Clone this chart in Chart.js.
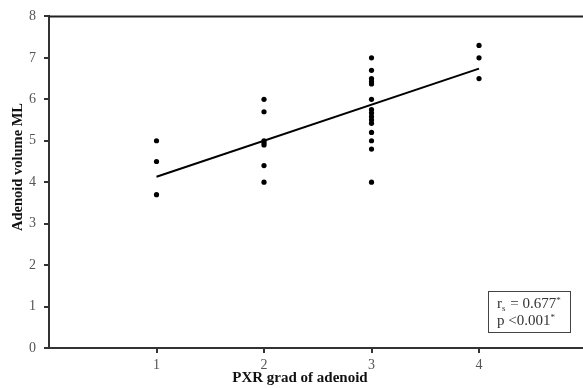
<!DOCTYPE html>
<html>
<head>
<meta charset="utf-8">
<script src="https://cdn.jsdelivr.net/npm/chart.js@4/dist/chart.umd.min.js"></script>
<style>
  html, body { margin: 0; padding: 0; background: #fff; }
  #wrap { width: 583px; height: 388px; position: relative; }
</style>
</head>
<body>
<div id="wrap"><canvas id="chart"></canvas></div>
<script>
// PXR grade groups and adenoid volumes (ML)
const grades = [1, 2, 3, 4];
const grade1 = [5.0, 4.5, 3.7];
const grade2 = [6.0, 5.7, 5.0, 4.95, 4.9, 4.4, 4.0];
const grade3 = [7.0, 6.7, 6.5, 6.43, 6.37, 6.0, 5.75, 5.67, 5.58, 5.5, 5.42, 5.2, 5.0, 4.8, 4.0];
const grade4 = [7.3, 7.0, 6.5];
const trendX = [1, 4];
const trendY = [4.13, 6.74];
const yTicks = [0, 1, 2, 3, 4, 5, 6, 7, 8];

const serif = '"Liberation Serif", "DejaVu Serif", serif';

const points = [];
[grade1, grade2, grade3, grade4].forEach((vals, i) => {
    vals.forEach(v => points.push({ x: grades[i], y: v }));
});

// frame lines running to the edge, axis titles and the stats box
const extras = {
    id: 'extras',
    afterDraw(chart) {
        const { ctx, chartArea } = chart;
        const xAxisY = chart.scales.y.getPixelForValue(0);
        ctx.save();
        ctx.strokeStyle = '#222';
        ctx.lineWidth = 2;
        ctx.beginPath();
        ctx.moveTo(chartArea.left, chartArea.top);
        ctx.lineTo(chart.width, chartArea.top);
        ctx.stroke();
        ctx.strokeStyle = '#333';
        ctx.beginPath();
        ctx.moveTo(chartArea.right - 2, xAxisY);
        ctx.lineTo(chart.width, xAxisY);
        ctx.stroke();

        ctx.fillStyle = '#111';
        ctx.font = 'bold 15px ' + serif;
        ctx.textAlign = 'center';
        ctx.textBaseline = 'middle';
        ctx.fillText('PXR grad of adenoid', 300, 378);

        ctx.save();
        ctx.translate(18, 167);
        ctx.rotate(-Math.PI / 2);
        ctx.font = 'bold 14.5px ' + serif;
        ctx.fillText('Adenoid volume ML', 0, 0);
        ctx.restore();

        // stats box
        ctx.lineWidth = 1;
        ctx.strokeStyle = '#444';
        ctx.strokeRect(488.5, 291.5, 82, 41);
        ctx.fillStyle = '#333';
        ctx.textAlign = 'left';
        ctx.textBaseline = 'alphabetic';
        const big = '15px ' + serif, small = '9px ' + serif;
        let x = 497;
        ctx.font = big;
        ctx.fillText('r', x, 308);
        x += ctx.measureText('r').width;
        ctx.font = small;
        ctx.fillText('s', x, 311);
        x += ctx.measureText('s').width + 1;
        ctx.font = big;
        ctx.fillText(' = 0.677', x, 308);
        x += ctx.measureText(' = 0.677').width;
        ctx.font = small;
        ctx.fillText('*', x, 303);

        x = 497;
        ctx.font = big;
        ctx.fillText('p <0.001', x, 325);
        x += ctx.measureText('p <0.001').width;
        ctx.font = small;
        ctx.fillText('*', x, 320);
        ctx.restore();
    }
};

new Chart(document.getElementById('chart'), {
    type: 'scatter',
    data: {
        datasets: [
            {
                label: 'Adenoid volume',
                data: points,
                backgroundColor: '#000',
                borderColor: '#000',
                pointRadius: 2.6,
                pointBorderWidth: 0
            },
            {
                type: 'line',
                label: 'Trend',
                data: trendX.map((x, i) => ({ x: x, y: trendY[i] })),
                borderColor: '#000',
                borderWidth: 2,
                pointRadius: 0,
                fill: false
            }
        ]
    },
    plugins: [extras],
    options: {
        responsive: true,
        maintainAspectRatio: false,
        animation: false,
        layout: { padding: { top: 14, right: 0, left: 0, bottom: 0 } },
        plugins: {
            legend: { display: false },
            tooltip: { enabled: false }
        },
        scales: {
            x: {
                type: 'linear',
                min: 0,
                max: 4.93,
                afterBuildTicks: scale => { scale.ticks = [0, 1, 2, 3, 4].map(v => ({ value: v })); },
                afterFit: scale => { scale.height = 40; },
                ticks: {
                    color: '#555',
                    font: { family: serif, size: 14 },
                    padding: 4,
                    callback: v => grades.includes(v) ? String(v) : ''
                },
                grid: {
                    drawOnChartArea: false,
                    tickLength: 5,
                    color: ctx => (ctx.tick && grades.includes(ctx.tick.value)) ? '#333' : 'rgba(0,0,0,0)',
                    lineWidth: 2
                },
                border: { color: '#333', width: 2 }
            },
            y: {
                min: 0,
                max: 8,
                afterBuildTicks: scale => { scale.ticks = yTicks.map(v => ({ value: v })); },
                afterFit: scale => { scale.width = 49; },
                ticks: {
                    color: '#555',
                    font: { family: serif, size: 14 },
                    padding: 8
                },
                grid: {
                    drawOnChartArea: false,
                    tickLength: 5,
                    color: '#333',
                    lineWidth: 2
                },
                border: { color: '#333', width: 2 }
            }
        }
    }
});
</script>
</body>
</html>
